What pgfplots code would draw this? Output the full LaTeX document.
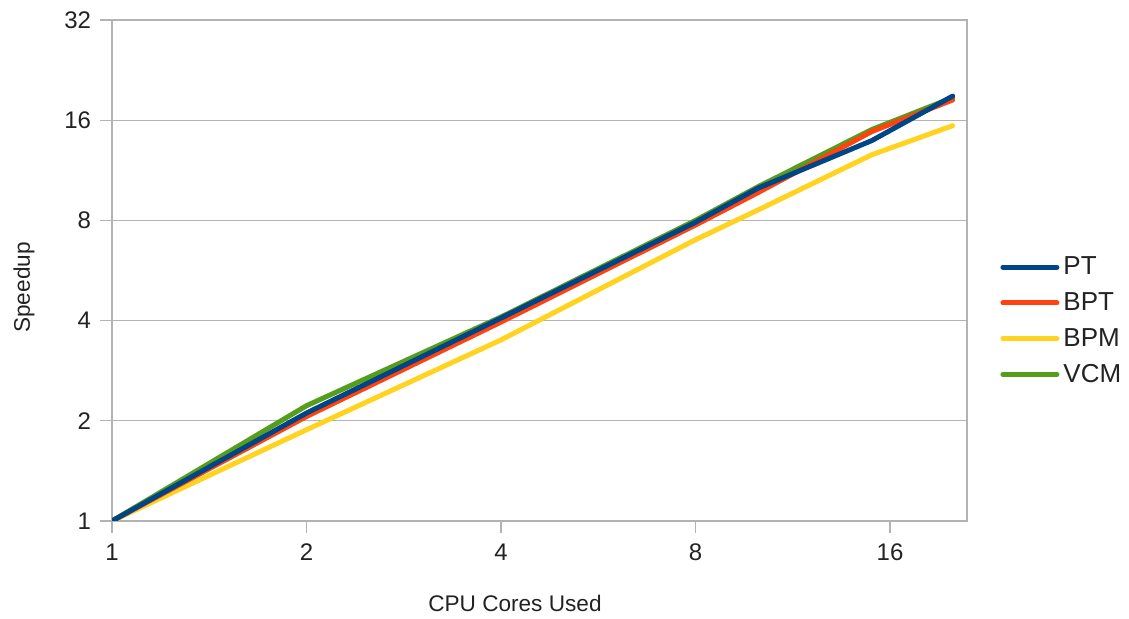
\documentclass[border=0pt]{standalone}
\usepackage{pgfplots}
\pgfplotsset{compat=1.18}
\usepackage{fontspec}
\setmainfont{Liberation Sans}
\definecolor{cPT}{HTML}{004586}
\definecolor{cBPT}{HTML}{FF420E}
\definecolor{cBPM}{HTML}{FFD320}
\definecolor{cVCM}{HTML}{579D1C}
\definecolor{axgray}{HTML}{B3B3B3}
\definecolor{txt}{HTML}{222222}
\begin{document}
\begin{tikzpicture}
\useasboundingbox (-56pt,-49pt) rectangle (508.5pt,260.5pt);
\begin{axis}[
  scale only axis,
  width=427.5pt, height=250.5pt,
  xmode=log, ymode=log, log basis x=2, log basis y=2,
  xmin=1, xmax=21.05, ymin=1, ymax=32,
  xtick={1,2,4,8,16}, xticklabels={1,2,4,8,16},
  ytick={1,2,4,8,16,32}, yticklabels={1,2,4,8,16,32},
  tick align=outside, major tick length=6pt,
  tick style={axgray, line width=0.6pt},
  xtick pos=bottom, ytick pos=left,
  axis line style={axgray, line width=0.6pt},
  ymajorgrids, grid style={axgray, line width=0.6pt},
  tick label style={font=\fontsize{12}{14}\selectfont, text=txt},
  xticklabel style={yshift=-2pt},
  yticklabel style={xshift=-1pt},
  xlabel={CPU Cores Used}, ylabel={Speedup},
  label style={font=\fontsize{11.3}{13}\selectfont, text=txt},
  x label style={at={(axis description cs:0.4713,0)}, anchor=center, yshift=-41pt},
  y label style={at={(axis description cs:-0.1029,0.466)}, anchor=center, rotate=0},
  legend style={draw=none, fill=none, at={(axis description cs:1.0386,0.536)}, anchor=north west,
    font=\fontsize{13}{15}\selectfont, text=txt, inner sep=0pt, row sep=3.4pt,
    /tikz/every even column/.append style={column sep=0pt}},
  legend cell align=left,
  legend image code/.code={\draw[#1, line width=2.5pt] (0pt,0pt) -- (27pt,0pt);},
  every axis plot/.append style={line width=2.5pt, line join=round, line cap=round},
]
\addlegendimage{cPT}\addlegendentry{PT}
\addlegendimage{cBPT}\addlegendentry{BPT}
\addlegendimage{cBPM}\addlegendentry{BPM}
\addlegendimage{cVCM}\addlegendentry{VCM}
\addplot[cVCM, forget plot] coordinates {(1,1) (2,2.22) (4,4.1) (8,8.0) (10,10.1) (15,15.0) (20,18.7)};
\addplot[cBPM, forget plot] coordinates {(1,1) (2,1.88) (4,3.5) (8,7.0) (10,8.6) (15,12.6) (20,15.4)};
\addplot[cBPT, forget plot] coordinates {(1,1) (2,2.06) (4,3.96) (8,7.75) (10,9.7) (15,14.8) (20,18.4)};
\addplot[cPT, forget plot] coordinates {(1,1) (2,2.11) (4,4.07) (8,7.9) (10,10.0) (15,13.9) (20,18.9)};
\end{axis}
\end{tikzpicture}
\end{document}
